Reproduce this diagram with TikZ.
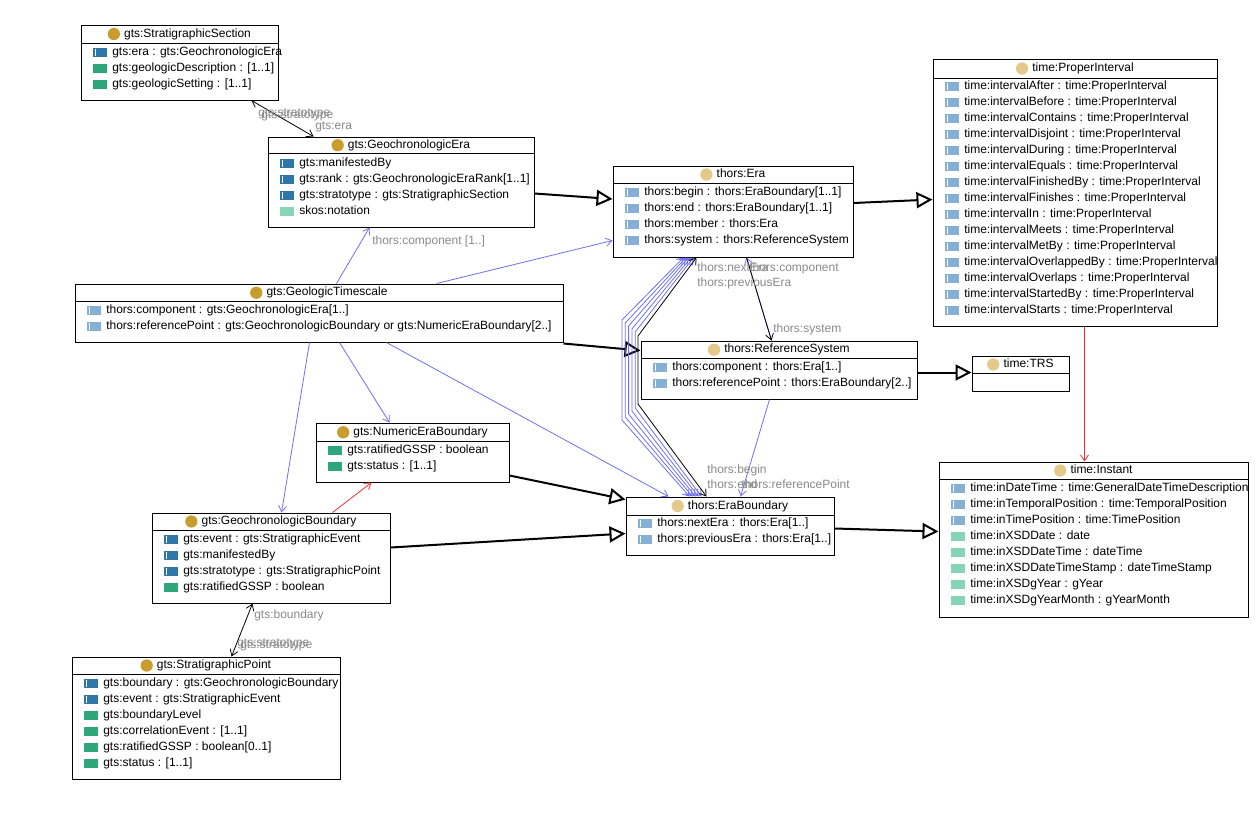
\documentclass[tikz,border=0pt]{standalone}
\usepackage{fontspec}
\setmainfont{Liberation Sans}
\usetikzlibrary{arrows.meta,fit,calc}
\definecolor{objdark}{HTML}{2E76A8}
\definecolor{objlight}{HTML}{86B0D3}
\definecolor{dtgreen}{HTML}{2DA77A}
\definecolor{dtlight}{HTML}{87D5B7}
\definecolor{goldc}{HTML}{C99C2E}
\definecolor{tanc}{HTML}{E4C98A}
\definecolor{lblgray}{HTML}{8A8A8A}
\definecolor{assocblue}{HTML}{7070F0}
\definecolor{relred}{HTML}{F03030}
\newcommand\fs{\fontsize{9pt}{11pt}\selectfont}
\newcounter{rc}
\tikzset{
  box/.style={draw=black, line width=0.75pt, inner sep=0pt, fill=white},
  tx/.style={inner sep=0pt, font=\fs, text height=6.6pt, text depth=1.8pt},
  rowtx/.style={tx, anchor=west},
  lbl/.style={tx, anchor=west, text=lblgray},
  gen/.style={draw=black, line width=1.5pt, -{Triangle[open, length=12pt, width=12pt]}},
  assoc/.style={draw=assocblue, line width=0.6pt},
  assocblack/.style={draw=black, line width=0.6pt},
  redrel/.style={draw=relred, line width=0.6pt},
}
\newcommand\umlcls[8]{%
  \node[box, fit={(#2,#3) (#4,#5)}] (#1) {};
  \draw[line width=0.75pt] (#2,#6) -- (#4,#6);
  \node[tx] (#1t) at ({(#2+#4)/2+8},{(#3+#6)/2}) {#7};
  \fill[#8] ($(#1t.west)+(-10,0)$) circle (4.6pt);
}
\newcommand\orow[4]{%
  \fill[#3] ({#1+12},{#2-4.5}) rectangle ({#1+26},{#2+4.5});
  \draw[white, line width=0.6pt] ({#1+14},{#2-3.5}) -- ({#1+14},{#2+3.5});
  \stepcounter{rc}%
  \node[rowtx] (row\arabic{rc}) at ({#1+31},{#2}) {#4};
}
\newcommand\drow[4]{%
  \fill[#3] ({#1+12},{#2-4.5}) rectangle ({#1+26},{#2+4.5});
  \stepcounter{rc}%
  \node[rowtx] (row\arabic{rc}) at ({#1+31},{#2}) {#4};
}
\begin{document}
\begin{tikzpicture}[x=0.75pt, y=-0.75pt, >={Straight Barb[length=4.5pt,width=6pt]}]
\useasboundingbox[fill=white] (0,0) rectangle (1259,818);

% ---- classes ----
\umlcls{sec}{81}{25}{278}{100}{43}{gts:StratigraphicSection}{goldc}
\orow{81}{52}{objdark}{gts:era : gts:GeochronologicEra}
\drow{81}{68}{dtgreen}{gts:geologicDescription : [1..1]}
\drow{81}{84}{dtgreen}{gts:geologicSetting : [1..1]}

\umlcls{gera}{268}{137}{534}{227}{153.5}{gts:GeochronologicEra}{goldc}
\orow{268}{163}{objdark}{gts:manifestedBy}
\orow{268}{179}{objdark}{gts:rank : gts:GeochronologicEraRank[1..1]}
\orow{268}{195}{objdark}{gts:stratotype : gts:StratigraphicSection}
\drow{268}{211}{dtlight}{skos:notation}

\umlcls{era}{613}{166}{853}{257}{183}{thors:Era}{tanc}
\orow{613}{192}{objlight}{thors:begin : thors:EraBoundary[1..1]}
\orow{613}{208}{objlight}{thors:end : thors:EraBoundary[1..1]}
\orow{613}{224}{objlight}{thors:member : thors:Era}
\orow{613}{240}{objlight}{thors:system : thors:ReferenceSystem}

\umlcls{pi}{933}{59}{1217}{326}{78}{time:ProperInterval}{tanc}
\foreach \t [count=\i from 0] in {After,Before,Contains,Disjoint,During,Equals,FinishedBy,Finishes,In,Meets,MetBy,OverlappedBy,Overlaps,StartedBy,Starts}{
  \orow{933}{86+16*\i}{objlight}{time:interval\t{} : time:ProperInterval}
}

\umlcls{gt}{75}{284}{563}{342}{301.5}{gts:GeologicTimescale}{goldc}
\orow{75}{310.5}{objlight}{thors:component : gts:GeochronologicEra[1..]}
\orow{75}{326.5}{objlight}{thors:referencePoint : gts:GeochronologicBoundary or gts:NumericEraBoundary[2..]}

\umlcls{rs}{641}{341}{917}{399}{358.5}{thors:ReferenceSystem}{tanc}
\orow{641}{367.5}{objlight}{thors:component : thors:Era[1..]}
\orow{641}{383.5}{objlight}{thors:referencePoint : thors:EraBoundary[2..]}

\umlcls{trs}{972}{356}{1069}{391}{373}{time:TRS}{tanc}

\umlcls{neb}{316}{423}{509}{482}{441.5}{gts:NumericEraBoundary}{goldc}
\drow{316}{450}{dtgreen}{gts:ratifiedGSSP : boolean}
\drow{316}{466}{dtgreen}{gts:status : [1..1]}

\umlcls{gb}{152}{513}{390}{603}{530}{gts:GeochronologicBoundary}{goldc}
\orow{152}{539}{objdark}{gts:event : gts:StratigraphicEvent}
\orow{152}{555}{objdark}{gts:manifestedBy}
\orow{152}{571}{objdark}{gts:stratotype : gts:StratigraphicPoint}
\drow{152}{587}{dtgreen}{gts:ratifiedGSSP : boolean}

\umlcls{eb}{626}{497}{834}{555}{515}{thors:EraBoundary}{tanc}
\orow{626}{523.5}{objlight}{thors:nextEra : thors:Era[1..]}
\orow{626}{539.5}{objlight}{thors:previousEra : thors:Era[1..]}

\umlcls{inst}{939}{462}{1248}{617}{479}{time:Instant}{tanc}
\orow{939}{488}{objlight}{time:inDateTime : time:GeneralDateTimeDescription}
\orow{939}{504}{objlight}{time:inTemporalPosition : time:TemporalPosition}
\orow{939}{520}{objlight}{time:inTimePosition : time:TimePosition}
\drow{939}{536}{dtlight}{time:inXSDDate : date}
\drow{939}{552}{dtlight}{time:inXSDDateTime : dateTime}
\drow{939}{568}{dtlight}{time:inXSDDateTimeStamp : dateTimeStamp}
\drow{939}{584}{dtlight}{time:inXSDgYear : gYear}
\drow{939}{600}{dtlight}{time:inXSDgYearMonth : gYearMonth}

\umlcls{sp}{72}{657}{340}{779}{674}{gts:StratigraphicPoint}{goldc}
\orow{72}{683}{objdark}{gts:boundary : gts:GeochronologicBoundary}
\orow{72}{699}{objdark}{gts:event : gts:StratigraphicEvent}
\drow{72}{715}{dtgreen}{gts:boundaryLevel}
\drow{72}{731}{dtgreen}{gts:correlationEvent : [1..1]}
\drow{72}{747}{dtgreen}{gts:ratifiedGSSP : boolean[0..1]}
\drow{72}{763}{dtgreen}{gts:status : [1..1]}

% ---- generalizations ----
\draw[gen] ($(gera.north east)+(0,57)$) -- ($(era.north west)+(0,33.5)$);
\draw[gen] ($(era.north east)+(0,37.5)$) -- ($(pi.north west)+(0,141)$);
\draw[gen] ($(gt.south east)+(0,1)$) -- ($(rs.north west)+(0,10)$);
\draw[gen] ($(gb.north east)+(0,35)$) -- ($(eb.north west)+(0,37)$);
\draw[gen] ($(neb.north east)+(0,53)$) -- ($(eb.north west)+(0,3)$);
\draw[gen] ($(eb.north east)+(0,32)$) -- ($(inst.north west)+(0,70)$);
\draw[gen] ($(rs.north east)+(0,32)$) -- ($(trs.north west)+(0,17)$);

% ---- associations ----
\draw[assocblack, <->] ($(sec.south west)+(171,0)$) -- ($(gera.north west)+(46,0)$);
\draw[assocblack, <->] ($(gb.south west)+(101,0)$) -- ($(sp.north west)+(160,0)$);
\draw[assoc, ->] ($(gt.north west)+(262,0)$) -- ($(gera.south west)+(102,0)$);
\draw[assoc, ->] ($(gt.north west)+(362,0)$) -- ($(era.south west)+(0,-17)$);
\draw[assoc, ->] ($(gt.south west)+(265,0)$) -- ($(neb.north west)+(74,0)$);
\draw[assoc, ->] ($(gt.south west)+(235,0)$) -- ($(gb.north west)+(130,0)$);
\draw[assoc, ->] ($(gt.south west)+(312,0)$) -- ($(eb.north west)+(43,0)$);
\draw[redrel, ->] ($(gb.north west)+(181,0)$) -- ($(neb.south west)+(56,0)$);
\draw[redrel, ->] ($(pi.south west)+(152,0)$) -- ($(inst.north west)+(146,0)$);
\draw[assoc, ->] ($(rs.north west)+(131,0)$) -- ($(era.south west)+(134,0)$);
\draw[assocblack, ->] ($(era.south west)+(134,0)$) -- ($(rs.north west)+(131,0)$);
\draw[assoc, ->] ($(rs.south west)+(129,0)$) -- ($(eb.north west)+(115,0)$);
\foreach \i in {0,...,4}{
  \draw[assoc, <->] ($(era.south west)+({71+2.5*\i},0)$) -- ({622+3.3*\i},{320+3*\i}) -- ({622+3.3*\i},{420-3*\i}) -- ($(eb.north west)+({64+3*\i},0)$);
}
\draw[assocblack, <->] ($(era.south west)+(84,0)$) -- (638,336) -- (638,404) -- ($(eb.north west)+(81,0)$);

% ---- labels ----
\node[lbl] (l1) at (258,113) {gts:stratotype};
\node[lbl] (l2) at (261,115.5) {gts:stratotype};
\node[lbl] (l3) at (315,126) {gts:era};
\node[lbl] (l4) at (372,241) {thors:component [1..]};
\node[lbl] (l5) at (697,268) {thors:nextEra};
\node[lbl] (l6) at (697,283) {thors:previousEra};
\node[lbl] (l7) at (749,268) {thors:component};
\node[lbl] (l8) at (773,329) {thors:system};
\node[lbl] (l9) at (707,470) {thors:begin};
\node[lbl] (l10) at (707,485) {thors:end};
\node[lbl, anchor=east] (l11) at (850,485) {thors:referencePoint};
\node[lbl] (l12) at (254,615) {gts:boundary};
\node[lbl] (l13) at (237,643) {gts:stratotype};
\node[lbl] (l14) at (240,645.5) {gts:stratotype};
\end{tikzpicture}
\end{document}
